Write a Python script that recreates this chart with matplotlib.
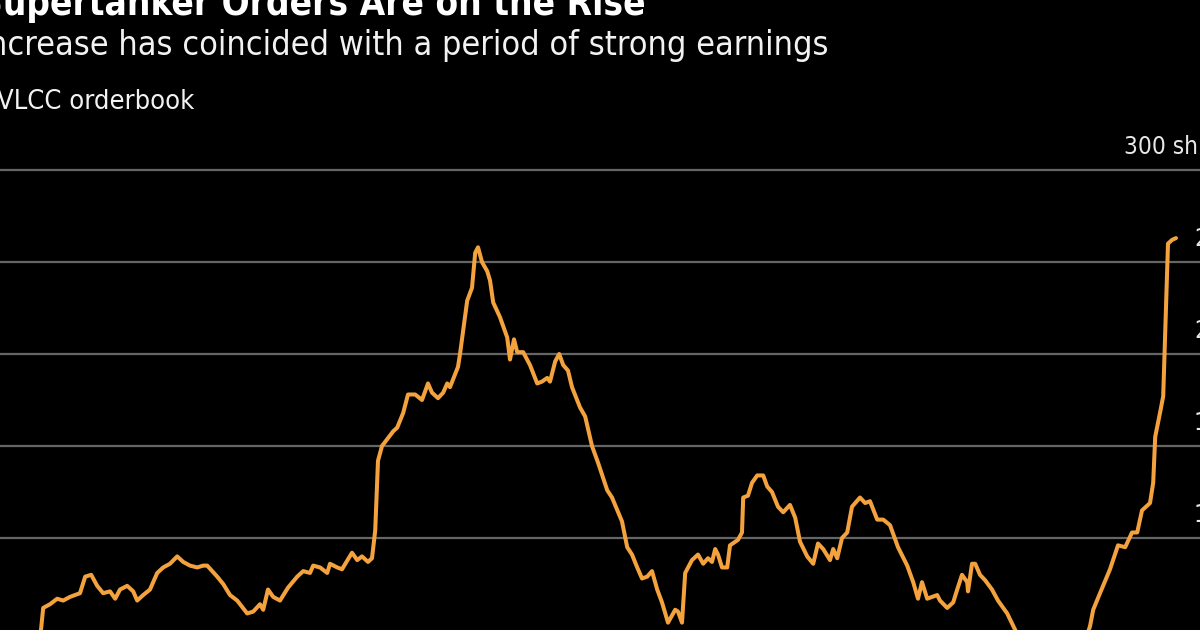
import matplotlib
matplotlib.use("Agg")
import matplotlib.pyplot as plt

# VLCC orderbook, number of ships
years = [
    1997.00, 1997.13, 1997.30, 1997.48, 1997.63, 1997.80, 1998.05, 1998.18, 1998.33, 1998.48,
    1998.63, 1998.80, 1998.93, 1999.05, 1999.23, 1999.38, 1999.48, 1999.63, 1999.80, 1999.98,
    2000.13, 2000.30, 2000.48, 2000.63, 2000.80, 2000.98, 2001.13, 2001.23, 2001.48, 2001.63,
    2001.80, 2001.98, 2002.23, 2002.38, 2002.55, 2002.63, 2002.75, 2002.88, 2003.05, 2003.25,
    2003.48, 2003.63, 2003.80, 2003.88, 2004.05, 2004.23, 2004.30, 2004.48, 2004.60, 2004.85,
    2004.98, 2005.10, 2005.25, 2005.35, 2005.43, 2005.50, 2005.60, 2005.88, 2005.98, 2006.13,
    2006.25, 2006.43, 2006.60, 2006.75, 2006.85, 2007.00, 2007.13, 2007.23, 2007.30, 2007.50,
    2007.55, 2007.73, 2007.85, 2007.93, 2008.00, 2008.10, 2008.23, 2008.30, 2008.38, 2008.55,
    2008.73, 2008.80, 2008.90, 2008.98, 2009.13, 2009.30, 2009.48, 2009.60, 2009.73, 2009.80,
    2009.93, 2010.03, 2010.13, 2010.25, 2010.35, 2010.55, 2010.68, 2010.85, 2011.00, 2011.23,
    2011.35, 2011.60, 2011.73, 2011.85, 2011.98, 2012.10, 2012.23, 2012.35, 2012.48, 2012.60,
    2012.75, 2012.93, 2013.00, 2013.10, 2013.18, 2013.35, 2013.50, 2013.63, 2013.75, 2013.85,
    2013.93, 2014.00, 2014.10, 2014.23, 2014.30, 2014.50, 2014.60, 2014.63, 2014.75, 2014.85,
    2014.98, 2015.13, 2015.23, 2015.35, 2015.50, 2015.63, 2015.80, 2015.93, 2016.05, 2016.23,
    2016.38, 2016.50, 2016.63, 2016.80, 2016.88, 2016.98, 2017.10, 2017.23, 2017.35, 2017.55,
    2017.68, 2017.80, 2017.98, 2018.13, 2018.30, 2018.50, 2018.73, 2018.88, 2019.00, 2019.10,
    2019.23, 2019.48, 2019.55, 2019.73, 2019.88, 2019.98, 2020.10, 2020.23, 2020.25, 2020.35,
    2020.43, 2020.55, 2020.68, 2020.85, 2021.00, 2021.23, 2021.43, 2021.68, 2022.05, 2022.43,
    2022.80, 2023.10, 2023.30, 2023.38, 2023.55, 2023.80, 2024.00, 2024.18, 2024.35, 2024.48,
    2024.60, 2024.80, 2024.88, 2024.93, 2025.05, 2025.13, 2025.25, 2025.35, 2025.45,
]
ships = [
    34, 62, 64, 67, 66, 68, 70, 79, 80, 74,
    70, 71, 67, 72, 74, 71, 66, 69, 72, 81,
    84, 86, 90, 87, 85, 84, 85, 85, 79, 75,
    69, 66, 59, 60, 64, 61, 72, 68, 66, 73,
    79, 82, 81, 85, 84, 81, 86, 84, 83, 92,
    88, 90, 87, 89, 104, 142, 150, 158, 160, 168,
    178, 178, 175, 184, 179, 176, 179, 184, 182, 193,
    200, 229, 236, 255, 258, 250, 245, 240, 228, 220,
    209, 197, 208, 201, 201, 194, 184, 185, 187, 185,
    196, 200, 194, 191, 182, 171, 166, 150, 141, 126,
    122, 109, 95, 91, 84, 78, 79, 82, 72, 65,
    54, 61, 60, 54, 81, 88, 91, 86, 89, 87,
    94, 91, 84, 84, 96, 99, 103, 122, 123, 130,
    134, 134, 128, 125, 117, 114, 118, 111, 98, 90,
    86, 97, 94, 88, 94, 89, 100, 103, 117, 122,
    119, 120, 110, 110, 107, 95, 85, 76, 67, 76,
    67, 69, 66, 62, 65, 72, 80, 76, 71, 86,
    86, 80, 77, 72, 66, 59, 50, 39, 31, 28,
    31, 39, 52, 61, 70, 83, 96, 95, 103, 103,
    115, 119, 130, 155, 168, 177, 260, 262, 263,
]

grid_values = [100, 150, 200, 250, 300]
grid_labels = ["100", "150", "200", "250", "300 ships"]

title = "Supertanker Orders Are on the Rise"
subtitle = "Increase has coincided with a period of strong earnings"
series_name = "VLCC orderbook"

font = dict(family="DejaVu Sans", fontstretch="condensed")
bg = "#000000"

fig = plt.figure(figsize=(12, 6.3), dpi=100, facecolor=bg)
ax = fig.add_axes([0, 0, 1, 1], facecolor=bg)

for v in grid_values:
    ax.axhline(v, color="#666666", linewidth=1.6, zorder=1)

ax.plot(years, ships, color="#F4A23E", linewidth=2.9, solid_joinstyle="round",
        solid_capstyle="round", zorder=3)

# axis range chosen so the picture shows the same cropped window
ax.set_xlim(1996.05, 2026.05)
ax.set_ylim(50, 392.4)
ax.axis("off")

# value labels sit just above each gridline, at the right edge
ytrans = ax.get_yaxis_transform()
for v, lab in zip(grid_values, grid_labels):
    x_px = 1124 if lab.endswith("ships") else 1194
    ax.text(x_px / 1200, v + 8.5, lab, transform=ytrans, ha="left", va="baseline",
            color="#e8e8e8", fontsize=17.5, zorder=4, **font)

fig.text(-21 / 1200, 1 - 15 / 630, title, ha="left", va="baseline",
         color="#ffffff", fontsize=26.5, fontweight="bold", **font)
fig.text(-21 / 1200, 1 - 55 / 630, subtitle, ha="left", va="baseline",
         color="#f2f2f2", fontsize=24.5, **font)
fig.text(-3 / 1200, 1 - 109 / 630, series_name, ha="left", va="baseline",
         color="#f2f2f2", fontsize=19.5, **font)

fig.savefig("out.png", dpi=100, facecolor=bg)
